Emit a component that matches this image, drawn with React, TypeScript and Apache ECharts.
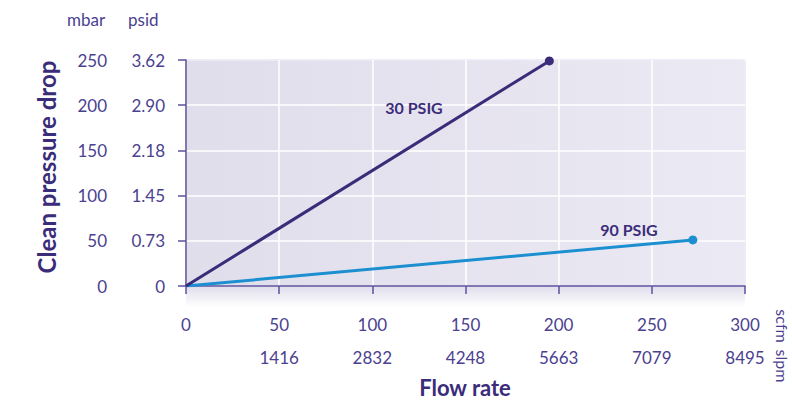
import React, { useEffect, useRef } from "react";
import * as echarts from "echarts";

const flowTicks = [0, 50, 100, 150, 200, 250, 300];
const slpmLabels = ["", "1416", "2832", "4248", "5663", "7079", "8495"];
const mbarTicks = [0, 50, 100, 150, 200, 250];
const psidLabels = ["0", "0.73", "1.45", "2.18", "2.90", "3.62"];

const series30Name = "30 PSIG";
const series30 = [
  [0, 0],
  [195, 249],
];
const series90Name = "90 PSIG";
const series90 = [
  [0, 0],
  [272, 51],
];

const DARK = "#3b2c7a";
const BLUE = "#1b8fd0";
const LABEL = "#4b4190";
const FONT = "Lato, 'Open Sans', sans-serif";

export default function App() {
  const ref = useRef<HTMLDivElement>(null);
  useEffect(() => {
    if (!ref.current) return;
    const chart = echarts.init(ref.current, undefined, { renderer: "svg" });
    const labelStyle = { color: LABEL, fontSize: 17, fontFamily: FONT };
    const option: any = {
      animation: false,
      textStyle: { fontFamily: FONT },
      grid: {
        left: 186,
        right: 47,
        top: 60,
        bottom: 115,
        show: true,
        borderColor: "#7c71b2",
        borderWidth: 1,
        backgroundColor: new echarts.graphic.LinearGradient(0, 0, 1, 0, [
          { offset: 0, color: "#e1deec" },
          { offset: 1, color: "#ebe9f3" },
        ]),
      },
      xAxis: [
        {
          type: "value",
          min: 0,
          max: 300,
          interval: 50,
          position: "bottom",
          axisLine: { show: true, lineStyle: { color: "#5e519e", width: 1.5 } },
          axisTick: { show: true, length: 8, lineStyle: { color: "#5e519e", width: 1.5 } },
          splitLine: { show: true, lineStyle: { color: "#ffffff", width: 1.5 } },
          axisLabel: { ...labelStyle, margin: 30, showMaxLabel: true, showMinLabel: true },
        },
        {
          type: "value",
          min: 0,
          max: 300,
          interval: 50,
          position: "bottom",
          axisLine: { show: false },
          axisTick: { show: false },
          splitLine: { show: false },
          axisLabel: {
            ...labelStyle,
            margin: 63,
            formatter: (v: number) => slpmLabels[flowTicks.indexOf(v)] ?? "",
          },
        },
      ],
      yAxis: [
        {
          type: "value",
          min: 0,
          max: 250,
          interval: 50,
          position: "left",
          axisLine: { show: true, lineStyle: { color: "#5e519e", width: 1.5 } },
          axisTick: { show: true, length: 8, lineStyle: { color: "#5e519e", width: 1.5 } },
          splitLine: { show: true, lineStyle: { color: "#ffffff", width: 1.5 } },
          axisLabel: {
            ...labelStyle,
            margin: 21,
            formatter: (v: number) => psidLabels[mbarTicks.indexOf(v)] ?? "",
          },
        },
        {
          type: "value",
          min: 0,
          max: 250,
          interval: 50,
          position: "left",
          axisLine: { show: false },
          axisTick: { show: false },
          splitLine: { show: false },
          axisLabel: { ...labelStyle, margin: 79 },
        },
      ],
      graphic: [
        {
          type: "rect",
          shape: { x: 186, y: 287, width: 559, height: 20 },
          style: {
            fill: new echarts.graphic.LinearGradient(0, 0, 0, 1, [
              { offset: 0, color: "rgba(225,222,236,1)" },
              { offset: 1, color: "rgba(225,222,236,0)" },
            ]),
          },
          z: -1,
        },
        {
          type: "text",
          x: 67,
          y: 11,
          style: { text: "mbar", fill: LABEL, font: `17px ${FONT}` },
        },
        {
          type: "text",
          x: 128,
          y: 11,
          style: { text: "psid", fill: LABEL, font: `17px ${FONT}` },
        },
        {
          type: "text",
          x: 46,
          y: 167,
          rotation: Math.PI / 2,
          style: {
            text: "Clean pressure drop",
            fill: DARK,
            font: `bold 24px ${FONT}`,
            align: "center",
            verticalAlign: "middle",
          },
        },
        {
          type: "text",
          x: 465,
          y: 387,
          style: {
            text: "Flow rate",
            fill: DARK,
            font: `bold 22px ${FONT}`,
            align: "center",
            verticalAlign: "middle",
          },
        },
        {
          type: "text",
          x: 782,
          y: 326,
          rotation: -Math.PI / 2,
          style: { text: "scfm", fill: LABEL, font: `16px ${FONT}`, align: "center", verticalAlign: "middle" },
        },
        {
          type: "text",
          x: 782,
          y: 366,
          rotation: -Math.PI / 2,
          style: { text: "slpm", fill: LABEL, font: `16px ${FONT}`, align: "center", verticalAlign: "middle" },
        },
        {
          type: "text",
          x: 414,
          y: 107,
          z: 10,
          style: {
            text: series30Name,
            fill: DARK,
            font: `bold 16px ${FONT}`,
            align: "center",
            verticalAlign: "middle",
          },
        },
        {
          type: "text",
          x: 629,
          y: 229,
          z: 10,
          style: {
            text: series90Name,
            fill: DARK,
            font: `bold 16px ${FONT}`,
            align: "center",
            verticalAlign: "middle",
          },
        },
      ],
      series: [
        {
          name: series90Name,
          type: "line",
          data: series90,
          lineStyle: { color: BLUE, width: 3 },
          itemStyle: { color: BLUE },
          symbol: "circle",
          symbolSize: (_v: any, p: any) => (p.dataIndex === series90.length - 1 ? 9 : 0),
          z: 3,
        },
        {
          name: series30Name,
          type: "line",
          data: series30,
          lineStyle: { color: DARK, width: 3 },
          itemStyle: { color: DARK },
          symbol: "circle",
          symbolSize: (_v: any, p: any) => (p.dataIndex === series30.length - 1 ? 9 : 0),
          z: 4,
        },
      ],
    };
    chart.setOption(option);
    return () => chart.dispose();
  }, []);
  return (
    <div
      ref={ref}
      style={{ position: "fixed", left: 0, top: 0, width: 792, height: 401, background: "#ffffff" }}
    />
  );
}
